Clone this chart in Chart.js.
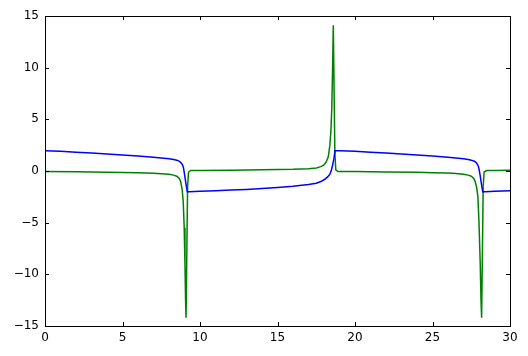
<!DOCTYPE html>
<html>
<head>
<meta charset="utf-8">
<script src="https://cdn.jsdelivr.net/npm/chart.js@4/dist/chart.umd.min.js"></script>
<style>
  html, body { margin: 0; padding: 0; background: #fff; }
  #wrap { width: 528px; height: 356px; }
</style>
</head>
<body>
<div id="wrap"><canvas id="plot"></canvas></div>
<script>
// values
const blueX = [0, 1, 2, 3, 4, 5, 6, 7, 7.5, 8, 8.3, 8.5, 8.65, 8.78, 8.87, 8.93, 9.0, 9.1, 9.18,
  9.3, 10, 11, 12, 13, 14, 15, 16, 17, 17.5, 17.8, 18.05, 18.25, 18.38, 18.48, 18.56, 18.64, 18.71,
  19.06, 20, 21, 22, 23, 24, 25, 26, 26.5, 27, 27.3, 27.5, 27.7, 27.83, 27.92, 27.98, 28.06, 28.16, 28.24,
  28.4, 29, 30];
const blueY = [1.97, 1.9, 1.82, 1.74, 1.65, 1.56, 1.45, 1.33, 1.26, 1.18, 1.12, 1.05, 0.95, 0.8, 0.6, 0.35, -0.3, -1.3, -2.02,
  -2.02, -1.97, -1.91, -1.85, -1.78, -1.7, -1.6, -1.48, -1.3, -1.18, -1.02, -0.8, -0.55, -0.3, 0.1, 0.6, 1.2, 1.97,
  1.96, 1.9, 1.82, 1.74, 1.65, 1.56, 1.45, 1.33, 1.26, 1.18, 1.12, 1.05, 0.94, 0.8, 0.6, 0.35, -0.3, -1.3, -2.02,
  -2.02, -1.97, -1.9];

const greenX = [0, 2, 4, 6, 7, 7.5, 8, 8.3, 8.5, 8.65, 8.75, 8.85, 8.92, 8.98, 9.03, 9.07, 9.1, 9.2, 9.26, 9.4,
  10, 12, 14, 16, 17, 17.5, 17.8, 18.0, 18.15, 18.28, 18.38, 18.45, 18.5, 18.55, 18.6, 18.7, 18.76, 18.9,
  20, 22, 24, 25, 26, 26.5, 27, 27.3, 27.5, 27.65, 27.75, 27.85, 27.93, 28.0, 28.08, 28.13, 28.17, 28.27, 28.33, 28.5,
  29, 30];
const greenY = [-0.06, -0.08, -0.12, -0.18, -0.22, -0.27, -0.32, -0.4, -0.5, -0.7, -1.0, -1.8, -3.0, -5.5, -9.0, -12.5, -14.2, -1.5, -0.1, 0.05,
  0.06, 0.08, 0.11, 0.16, 0.22, 0.3, 0.42, 0.58, 0.9, 1.4, 2.5, 4.0, 6.0, 9.5, 14.1, 1.8, 0.1, -0.05,
  -0.06, -0.09, -0.13, -0.16, -0.2, -0.25, -0.32, -0.4, -0.5, -0.7, -1.0, -1.6, -2.5, -5.0, -9.0, -12.5, -14.2, -1.5, -0.1, 0.05,
  0.06, 0.07];

const xTicks = [0, 5, 10, 15, 20, 25, 30];
const yTicks = [-15, -10, -5, 0, 5, 10, 15];

function toPoints(xs, ys) {
  return xs.map((x, i) => ({ x: x, y: ys[i] }));
}

// black box with inward ticks on all four sides
const frame = {
  id: 'frame',
  afterDraw(chart) {
    const ctx = chart.ctx;
    const a = chart.chartArea;
    const sx = chart.scales.x;
    const sy = chart.scales.y;
    const len = 4;
    ctx.save();
    ctx.strokeStyle = '#000';
    ctx.lineWidth = 1;
    ctx.beginPath();
    xTicks.forEach(v => {
      const px = Math.round(sx.getPixelForValue(v)) + 0.5;
      ctx.moveTo(px, a.bottom); ctx.lineTo(px, a.bottom - len);
      ctx.moveTo(px, a.top); ctx.lineTo(px, a.top + len);
    });
    yTicks.forEach(v => {
      const py = Math.round(sy.getPixelForValue(v)) + 0.5;
      ctx.moveTo(a.left, py); ctx.lineTo(a.left + len, py);
      ctx.moveTo(a.right, py); ctx.lineTo(a.right - len, py);
    });
    ctx.stroke();
    ctx.strokeRect(Math.round(a.left) + 0.5, Math.round(a.top) + 0.5,
      Math.round(a.right - a.left), Math.round(a.bottom - a.top));
    ctx.restore();
  }
};

const minus = v => String(v).replace('-', '\u2212');

new Chart(document.getElementById('plot'), {
  type: 'line',
  data: {
    datasets: [{
      data: toPoints(blueX, blueY),
      borderColor: '#0000ff',
      borderWidth: 1.5,
      pointRadius: 0,
      tension: 0
    }, {
      data: toPoints(greenX, greenY),
      borderColor: '#008000',
      borderWidth: 1.5,
      pointRadius: 0,
      tension: 0
    }]
  },
  options: {
    responsive: true,
    maintainAspectRatio: false,
    animation: false,
    layout: { padding: { top: 16, right: 18, left: 0, bottom: 0 } },
    plugins: { legend: { display: false }, tooltip: { enabled: false } },
    scales: {
      x: {
        type: 'linear',
        min: 0, max: 30,
        grid: { display: false, drawTicks: false },
        border: { display: false },
        afterFit(scale) { scale.height = 30; },
        afterBuildTicks(scale) { scale.ticks = xTicks.map(v => ({ value: v })); },
        ticks: {
          padding: 5,
          color: '#000',
          font: { family: 'DejaVu Sans', size: 12 },
          maxRotation: 0,
          callback: minus
        }
      },
      y: {
        min: -15, max: 15,
        grid: { display: false, drawTicks: false },
        border: { display: false },
        afterFit(scale) { scale.width = 45; },
        afterBuildTicks(scale) { scale.ticks = yTicks.map(v => ({ value: v })); },
        ticks: {
          padding: 6,
          color: '#000',
          font: { family: 'DejaVu Sans', size: 12 },
          callback: minus
        }
      }
    }
  },
  plugins: [frame]
});
</script>
</body>
</html>
